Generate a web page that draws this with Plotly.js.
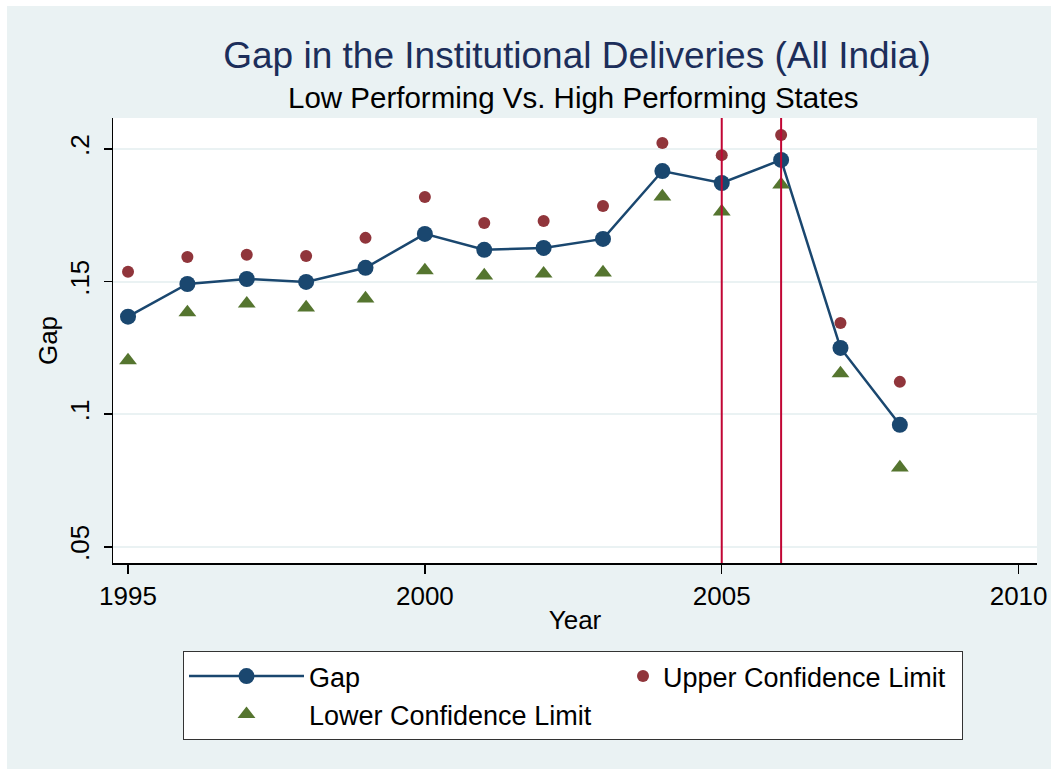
<!DOCTYPE html>
<html>
<head>
<meta charset="utf-8">
<script src="https://cdn.plot.ly/plotly-3.0.1.min.js"></script>
<style>html,body{margin:0;padding:0;background:#fff;}#chart{width:1051px;height:769px;}</style>
</head>
<body>
<div id="chart"></div>
<script>
// ---- data ----
const years = [1995, 1996, 1997, 1998, 1999, 2000, 2001, 2002, 2003, 2004, 2005, 2006, 2007, 2008];
const gap = [0.1368, 0.1491, 0.1510, 0.1499, 0.1552, 0.1680, 0.1620, 0.1627, 0.1661, 0.1917, 0.1872, 0.1959, 0.1250, 0.0960];
const upperCL = [0.1537, 0.1593, 0.1601, 0.1597, 0.1665, 0.1819, 0.1721, 0.1729, 0.1785, 0.2023, 0.1977, 0.2053, 0.1344, 0.1122];
const lowerCL = [0.1203, 0.1384, 0.1417, 0.1402, 0.1436, 0.1542, 0.1523, 0.1530, 0.1534, 0.1821, 0.1764, 0.1866, 0.1154, 0.0799];
const refYears = [2005, 2006];
const yTickVals = [0.05, 0.1, 0.15, 0.2];
const yTickText = ['.05', '.1', '.15', '.2'];
const xTickVals = [1995, 2000, 2005, 2010];
const xTickText = ['1995', '2000', '2005', '2010'];

const FONT = '"Liberation Sans", Arial, sans-serif';
const BG = '#EAF2F3';

const traces = [
  {
    x: years, y: gap, name: 'Gap', type: 'scatter', mode: 'lines+markers',
    line: {color: '#1A476F', width: 2.5},
    marker: {color: '#1A476F', size: 16, symbol: 'circle'},
    legend: 'legend'
  },
  {
    x: years, y: upperCL, name: 'Upper Confidence Limit', type: 'scatter', mode: 'markers',
    marker: {color: '#90353B', size: 12, symbol: 'circle'},
    legend: 'legend2'
  },
  {
    x: years, y: lowerCL, name: 'Lower Confidence Limit', type: 'scatter', mode: 'markers',
    marker: {color: '#55752F', size: 15.5, symbol: 'triangle-up'},
    legend: 'legend'
  }
];

const L = 113, R = 14, T = 118, B = 206, W = 1051, H = 769;
const pw = W - L - R, ph = H - T - B;

const shapes = [
  {type: 'rect', xref: 'paper', yref: 'paper', layer: 'below',
   x0: (7 - L) / pw, x1: (W - L) / pw, y0: -(B) / ph, y1: (H - B - 6) / ph,
   fillcolor: BG, line: {width: 0}},
  {type: 'rect', xref: 'paper', yref: 'paper', layer: 'below',
   x0: 0, x1: 1, y0: 0, y1: 1, fillcolor: '#FFFFFF', line: {width: 0}}
];
refYears.forEach(function (yr) {
  shapes.push({type: 'line', xref: 'x', yref: 'paper', x0: yr, x1: yr, y0: 0, y1: 1,
    line: {color: '#C10534', width: 2}, layer: 'above'});
});

const legendTop = -(651 - (H - B)) / ph;

const layout = {
  width: W, height: H,
  paper_bgcolor: '#FFFFFF',
  plot_bgcolor: '#FFFFFF',
  margin: {l: L, r: R, t: T, b: B, pad: 0},
  font: {family: FONT, size: 26, color: '#000000'},
  title: {
    text: 'Gap in the Institutional Deliveries (All India)',
    font: {family: FONT, size: 37, color: '#1C2E5A'},
    x: 577 / W, xanchor: 'center', xref: 'container',
    y: 1 - 55 / H, yanchor: 'middle', yref: 'container'
  },
  annotations: [
    {text: 'Low Performing Vs. High Performing States', xref: 'paper', yref: 'paper',
     x: (573 - L) / pw, y: (H - B - 98) / ph, xanchor: 'center', yanchor: 'middle',
     showarrow: false, font: {family: FONT, size: 29.5, color: '#000000'}}
  ],
  xaxis: {
    range: [1994.747, 2010.31],
    tickmode: 'array', tickvals: xTickVals, ticktext: xTickText,
    ticks: 'outside', ticklen: 9, tickwidth: 1.5, tickcolor: '#000000',
    showgrid: false, zeroline: false,
    showline: true, linecolor: '#000000', linewidth: 1.5,
    tickfont: {family: FONT, size: 26, color: '#000000'},
    title: {text: 'Year', font: {family: FONT, size: 26, color: '#000000'}, standoff: 1}
  },
  yaxis: {
    range: [0.0439, 0.2117],
    tickmode: 'array', tickvals: yTickVals, ticktext: yTickText,
    tickangle: -90,
    ticks: 'outside', ticklen: 8, tickwidth: 1.5, tickcolor: '#000000',
    ticklabelstandoff: 4,
    showgrid: true, gridcolor: BG, gridwidth: 2,
    zeroline: false,
    showline: true, linecolor: '#000000', linewidth: 1.5,
    tickfont: {family: FONT, size: 26, color: '#000000'},
    title: {text: 'Gap', font: {family: FONT, size: 26, color: '#000000'}, standoff: 0}
  },
  shapes: shapes,
  showlegend: true,
  legend: {
    orientation: 'h',
    x: (183 - L) / pw, xanchor: 'left',
    y: legendTop, yanchor: 'top',
    bgcolor: '#FFFFFF', bordercolor: '#333333', borderwidth: 1,
    font: {family: FONT, size: 27, color: '#000000'},
    itemwidth: 115,
    entrywidth: 648,
    traceorder: 'normal'
  },
  legend2: {
    orientation: 'v',
    x: (664 - 41 - L) / pw, xanchor: 'left',
    y: legendTop - 1 / ph, yanchor: 'top',
    bgcolor: 'rgba(0,0,0,0)', borderwidth: 0,
    font: {family: FONT, size: 27, color: '#000000'},
    itemwidth: 30
  }
};

Plotly.newPlot('chart', traces, layout, {displayModeBar: false, staticPlot: true});
</script>
</body>
</html>
